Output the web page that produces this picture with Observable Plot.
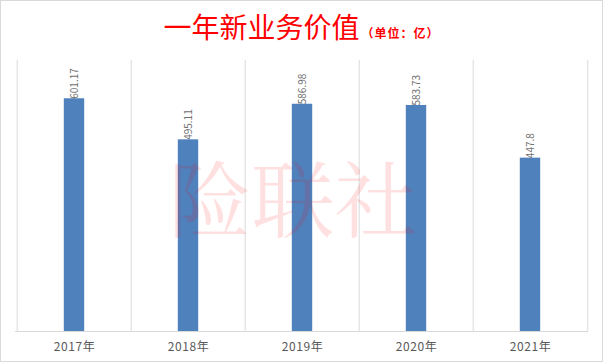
<!DOCTYPE html>
<html><head><meta charset="utf-8">
<script src="https://cdn.jsdelivr.net/npm/d3@7"></script>
<script src="https://cdn.jsdelivr.net/npm/@observablehq/plot@0.6"></script>
<style>
html,body{margin:0;padding:0;background:#fff;}
#wrap{position:relative;width:603px;height:362px;background:#fff;overflow:hidden;}
#title{height:45px;text-align:center;color:#ff0000;font-family:"Noto Sans CJK SC",sans-serif;line-height:53px;white-space:nowrap;}
#title .t{font-size:28px;font-weight:400;}
#title .s{font-size:12px;font-weight:700;letter-spacing:1px;margin-left:2px;}
#border{position:absolute;left:0;top:0;right:0;bottom:0;border:1px solid #d9d9d9;pointer-events:none;}
</style></head>
<body>
<div id="wrap">
  <div id="title"><span class="t"></span><span class="s"></span></div>
  <div id="chart"></div>
  <div id="border"></div>
</div>
<script>
const titleText = "一年新业务价值";
const unitText = "（单位：亿）";
const watermark = "险联社";
const years = ["2017年", "2018年", "2019年", "2020年", "2021年"];
const values = [601.17, 495.11, 586.98, 583.73, 447.8];
const labels = ["601.17", "495.11", "586.98", "583.73", "447.8"];

document.querySelector("#title .t").textContent = titleText;
document.querySelector("#title .s").textContent = unitText;

const data = years.map((y, i) => ({year: y, value: values[i], label: labels[i]}));

const W = 603, H = 317, mL = 15, mR = 15;
const bw = (W - mL - mR) / years.length;
const barW = 21;

const chart = Plot.plot({
  width: W,
  height: H,
  marginTop: 15,
  marginBottom: 31,
  marginLeft: mL,
  marginRight: mR,
  style: {fontFamily: "'Noto Sans CJK SC', sans-serif", background: "#fff"},
  x: {domain: years, padding: 0, label: null, tickSize: 0, tickPadding: 11},
  y: {domain: [0, 700], axis: null},
  marks: [
    Plot.ruleX(years, {x: d => d, stroke: "#d9d9d9", dx: -bw / 2}),
    Plot.ruleX(years.slice(-1), {x: d => d, stroke: "#d9d9d9", dx: bw / 2}),
    Plot.ruleY([0], {stroke: "#d9d9d9"}),
    Plot.barY(data, {x: "year", y: "value", fill: "#4f81bd", insetLeft: (bw - barW) / 2, insetRight: (bw - barW) / 2}),
    Plot.text(data, {x: "year", y: "value", text: "label", rotate: -90, textAnchor: "start", lineAnchor: "middle", fill: "#6f6f6f", fontSize: 10}),
    Plot.text([watermark], {text: d => d, frameAnchor: "middle", dx: -9, dy: 8, fontSize: 83, fill: "#ff0000", fillOpacity: 0.12, fontFamily: "'Noto Serif CJK SC', 'Noto Sans CJK SC', serif", fontWeight: 400})
  ]
});
const ax = chart.querySelector('[aria-label="x-axis tick label"]');
if (ax) { ax.setAttribute("font-size", "12"); ax.setAttribute("fill", "#595959"); ax.setAttribute("letter-spacing", "0.6"); }
document.getElementById("chart").appendChild(chart);
</script>
</body></html>
